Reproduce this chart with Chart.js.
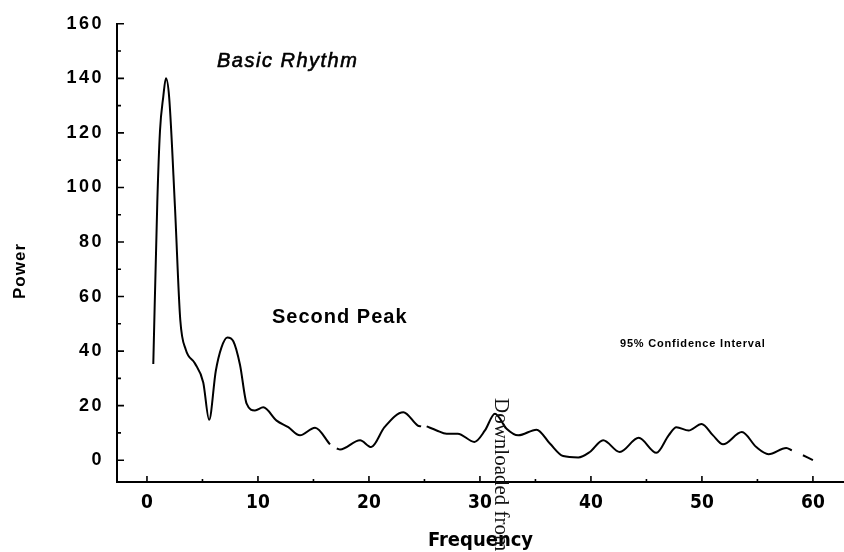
<!DOCTYPE html>
<html>
<head>
<meta charset="utf-8">
<script src="https://cdn.jsdelivr.net/npm/chart.js@4/dist/chart.umd.min.js"></script>
<style>
html,body{margin:0;padding:0;background:#fff;}
#wrap{width:844px;height:552px;position:relative;}
</style>
</head>
<body>
<div id="wrap"><canvas id="c" width="844" height="552"></canvas></div>
<script>
// ---- data ----
const frequency = [0.57, 0.93, 1.17, 1.47, 1.71, 2.0, 2.52, 3.0, 3.5, 4.3, 5.07, 5.6, 6.2, 6.7, 7.24, 7.78, 8.38, 8.98, 9.73, 10.48, 11.68, 12.73, 13.78, 15.14, 16.49, 16.8, 17.1, 17.4, 19.2, 20.2, 21.4, 23.1, 24.4, 24.7, 24.95, 25.2, 26.1, 27.0, 28.0, 29.5, 30.45, 31.35, 32.4, 33.45, 35.1, 36.3, 37.5, 38.86, 39.9, 41.1, 42.6, 44.3, 45.9, 47.0, 47.7, 48.8, 49.97, 51.0, 51.9, 53.6, 54.9, 56.0, 57.6, 58.1, 58.6, 59.1, 60.0];
const power = [35.3, 94.5, 120.5, 133.3, 140, 133, 93, 51.5, 40.5, 35.6, 28.5, 14.8, 32.7, 41.2, 45, 43.6, 35, 20.7, 18.2, 19.4, 14.5, 12.1, 9.1, 11.9, 5.8, null, 4.3, 3.9, 7.3, 4.8, 12.1, 17.6, 12.7, 12.4, null, 12.4, 10.9, 9.7, 9.7, 6.7, 10.9, 17, 11.5, 9.1, 11.2, 6.1, 1.5, 1.0, 3.0, 7.3, 3.0, 8.2, 2.7, 9.1, 12.1, 10.9, 13.3, 9.1, 5.8, 10.3, 4.8, 2.2, 4.5, 3.6, null, 1.8, 0];
const xTickValues = [0, 10, 20, 30, 40, 50, 60];
const xMinorTickValues = [5, 15, 25, 35, 45, 55];
const yTickValues = [0, 20, 40, 60, 80, 100, 120, 140, 160];
const yMinorTickValues = [10, 30, 50, 70, 90, 110, 130, 150];
const xAxisTitle = 'Frequency';
const yAxisTitle = 'Power';
const noteLabels = ['Basic Rhythm', 'Second Peak', '95% Confidence Interval'];
const watermark = 'Downloaded from';

const points = frequency.map((f, i) => ({ x: f, y: power[i] }));
const condensed = '"DejaVu Sans Condensed", "Liberation Sans Narrow", "Arial Narrow", "Liberation Sans", Arial, sans-serif';

const tickMarks = {
  id: 'tickMarks',
  afterDraw(chart) {
    const ctx = chart.ctx, xs = chart.scales.x, ys = chart.scales.y;
    const area = chart.chartArea;
    ctx.save();
    ctx.strokeStyle = '#000';
    ctx.lineWidth = 1.6;
    ctx.beginPath();
    xTickValues.forEach(v => { const p = xs.getPixelForValue(v); ctx.moveTo(p, area.bottom); ctx.lineTo(p, area.bottom - 6); });
    xMinorTickValues.forEach(v => { const p = xs.getPixelForValue(v); ctx.moveTo(p, area.bottom); ctx.lineTo(p, area.bottom - 3); });
    yTickValues.forEach(v => { const p = ys.getPixelForValue(v); ctx.moveTo(area.left, p); ctx.lineTo(area.left + 7, p); });
    yMinorTickValues.forEach(v => { const p = ys.getPixelForValue(v); ctx.moveTo(area.left, p); ctx.lineTo(area.left + 4, p); });
    ctx.stroke();
    ctx.restore();
  }
};

const texts = {
  id: 'texts',
  beforeDraw(chart) {
    const s = chart.scales.y;
    if (s && !s._spaced) {
      const orig = s.drawLabels;
      s.drawLabels = function (a) {
        this.ctx.save();
        this.ctx.letterSpacing = '2.5px';
        orig.call(this, a);
        this.ctx.restore();
      };
      s._spaced = true;
    }
  },
  afterDraw(chart) {
    const ctx = chart.ctx;
    ctx.save();
    ctx.fillStyle = '#000';
    ctx.strokeStyle = '#000';
    ctx.textBaseline = 'alphabetic';
    ctx.textAlign = 'left';
    ctx.letterSpacing = '1.5px';
    ctx.font = 'italic 20px "Liberation Sans", Arial, sans-serif';
    ctx.fillText(noteLabels[0], 217, 67);
    ctx.lineWidth = 0.6;
    ctx.strokeText(noteLabels[0], 217, 67);
    ctx.letterSpacing = '1px';
    ctx.font = 'bold 20px "Liberation Sans", Arial, sans-serif';
    ctx.fillText(noteLabels[1], 272, 323);
    ctx.letterSpacing = '0.8px';
    ctx.font = 'bold 11px "Liberation Sans", Arial, sans-serif';
    ctx.fillText(noteLabels[2], 620, 347);
    // y axis title
    ctx.save();
    ctx.translate(20, 271);
    ctx.rotate(-Math.PI / 2);
    ctx.textAlign = 'center';
    ctx.textBaseline = 'middle';
    ctx.letterSpacing = '1px';
    ctx.font = 'bold 17px "Liberation Sans", Arial, sans-serif';
    ctx.fillText(yAxisTitle, 0, 0);
    ctx.restore();
    // watermark
    ctx.save();
    ctx.translate(495, 398);
    ctx.rotate(Math.PI / 2);
    ctx.letterSpacing = '0px';
    ctx.textAlign = 'left';
    ctx.textBaseline = 'alphabetic';
    ctx.font = '21px "Liberation Serif", "Times New Roman", serif';
    ctx.fillStyle = '#111';
    ctx.fillText(watermark, 0, 0);
    ctx.restore();
    ctx.restore();
  }
};

new Chart(document.getElementById('c'), {
  type: 'line',
  data: {
    datasets: [{
      data: points,
      borderColor: '#000',
      borderWidth: 2,
      pointRadius: 0,
      fill: false,
      spanGaps: false,
      cubicInterpolationMode: 'monotone'
    }]
  },
  options: {
    responsive: false,
    animation: false,
    devicePixelRatio: 1,
    layout: { padding: { top: 20, left: 0, right: 0, bottom: 0 } },
    plugins: { legend: { display: false }, tooltip: { enabled: false } },
    scales: {
      x: {
        type: 'linear',
        position: 'bottom',
        min: -2.7,
        max: 62.8,
        grid: { display: false, drawTicks: false },
        border: { display: true, color: '#000', width: 2 },
        afterBuildTicks: s => { s.ticks = xTickValues.map(v => ({ value: v })); },
        afterFit: s => { s.height = 70; },
        ticks: {
          color: '#000',
          padding: 10,
          maxRotation: 0,
          autoSkip: false,
          font: { family: condensed, weight: 'bold', size: 19 }
        },
        title: {
          display: true,
          text: xAxisTitle,
          color: '#000',
          padding: { top: 0, bottom: 1 },
          font: { family: condensed, weight: 'bold', size: 20, lineHeight: 1 }
        }
      },
      y: {
        type: 'linear',
        min: -8,
        max: 160,
        grid: { display: false, drawTicks: false },
        border: { display: true, color: '#000', width: 2 },
        afterBuildTicks: s => { s.ticks = yTickValues.map(v => ({ value: v })); },
        afterFit: s => { s.width = 117; },
        ticks: {
          color: '#000',
          padding: 13,
          autoSkip: false,
          font: { family: '"Liberation Sans", Arial, sans-serif', weight: 'bold', size: 18 }
        }
      }
    }
  },
  plugins: [tickMarks, texts]
});
</script>
</body>
</html>
